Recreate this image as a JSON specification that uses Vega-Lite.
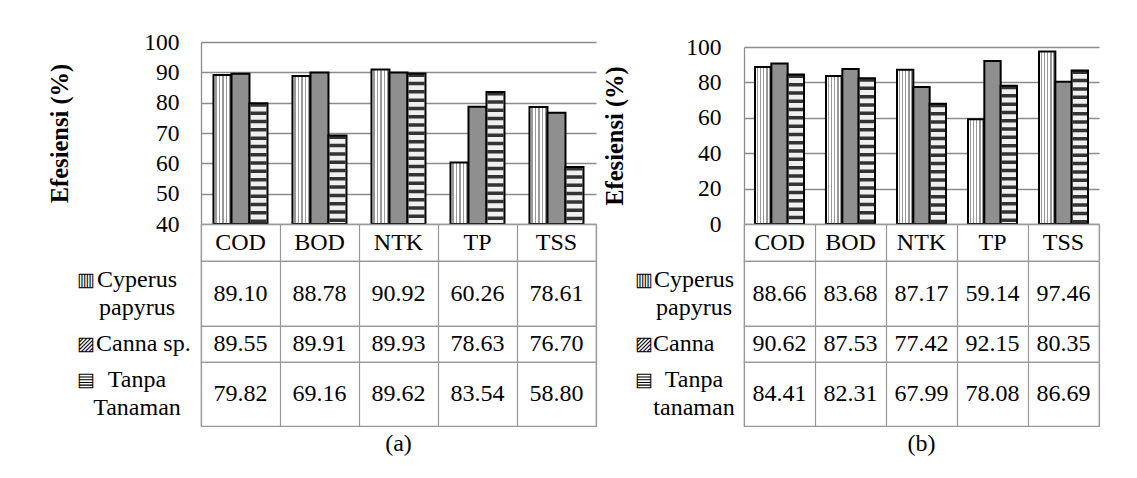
{
"$schema": "https://vega.github.io/schema/vega-lite/v6.json",
"background": "white",
"padding": {"left": 47, "top": 30, "right": 5, "bottom": 5},
"autosize": {"type": "pad"},
"datasets": {
 "a": [
  {"param": "COD", "series": "Cyperus papyrus", "value": 89.10},
  {"param": "BOD", "series": "Cyperus papyrus", "value": 88.78},
  {"param": "NTK", "series": "Cyperus papyrus", "value": 90.92},
  {"param": "TP", "series": "Cyperus papyrus", "value": 60.26},
  {"param": "TSS", "series": "Cyperus papyrus", "value": 78.61},
  {"param": "COD", "series": "Canna sp.", "value": 89.55},
  {"param": "BOD", "series": "Canna sp.", "value": 89.91},
  {"param": "NTK", "series": "Canna sp.", "value": 89.93},
  {"param": "TP", "series": "Canna sp.", "value": 78.63},
  {"param": "TSS", "series": "Canna sp.", "value": 76.70},
  {"param": "COD", "series": "Tanpa Tanaman", "value": 79.82},
  {"param": "BOD", "series": "Tanpa Tanaman", "value": 69.16},
  {"param": "NTK", "series": "Tanpa Tanaman", "value": 89.62},
  {"param": "TP", "series": "Tanpa Tanaman", "value": 83.54},
  {"param": "TSS", "series": "Tanpa Tanaman", "value": 58.80}
 ],
 "b": [
  {"param": "COD", "series": "Cyperus papyrus", "value": 88.66},
  {"param": "BOD", "series": "Cyperus papyrus", "value": 83.68},
  {"param": "NTK", "series": "Cyperus papyrus", "value": 87.17},
  {"param": "TP", "series": "Cyperus papyrus", "value": 59.14},
  {"param": "TSS", "series": "Cyperus papyrus", "value": 97.46},
  {"param": "COD", "series": "Canna", "value": 90.62},
  {"param": "BOD", "series": "Canna", "value": 87.53},
  {"param": "NTK", "series": "Canna", "value": 77.42},
  {"param": "TP", "series": "Canna", "value": 92.15},
  {"param": "TSS", "series": "Canna", "value": 80.35},
  {"param": "COD", "series": "Tanpa tanaman", "value": 84.41},
  {"param": "BOD", "series": "Tanpa tanaman", "value": 82.31},
  {"param": "NTK", "series": "Tanpa tanaman", "value": 67.99},
  {"param": "TP", "series": "Tanpa tanaman", "value": 78.08},
  {"param": "TSS", "series": "Tanpa tanaman", "value": 86.69}
 ]
},
"columns": 5,
"spacing": 0,
"bounds": "flush",
"align": "each",
"concat": [
 {"width": 132, "height": 182, "view": {"stroke": null}, "data": {"values": [{}]}, "mark": {"type": "text", "text": ""}},
 {"width": 395, "height": 182, "view": {"stroke": null}, "data": {"name": "a"},
  "resolve": {"scale": {"x": "independent"}},
  "encoding": {
   "y": {"field": "value", "type": "quantitative", "scale": {"domain": [40, 100], "nice": false, "zero": false},
    "axis": {"values": [40, 50, 60, 70, 80, 90, 100], "title": "Efesiensi (%)", "titleFontSize": 24.5, "titleFontWeight": "bold", "titleColor": "#000000", "titlePadding": 71, "labelFontSize": 23.5, "labelColor": "#000000", "labelPadding": 22, "ticks": false, "domainColor": "#8c8c8c", "domainWidth": 1.3, "grid": true, "gridColor": "#8c8c8c", "gridWidth": 1.3, "labelOverlap": false, "labelFlush": false}},
   "y2": {"datum": 40}
  },
  "layer": [
   {"transform": [{"filter": "datum.series === 'Cyperus papyrus'"}],
    "mark": {"type": "bar", "stroke": "#000000", "strokeWidth": 2, "fill": {"gradient": "linear", "x1": 0, "y1": 0, "x2": 1, "y2": 0, "stops": [
     {"offset": 0, "color": "#ffffff"}, {"offset": 0.1, "color": "#ffffff"}, {"offset": 0.1, "color": "#999999"}, {"offset": 0.17, "color": "#999999"}, {"offset": 0.17, "color": "#ffffff"},
     {"offset": 0.3, "color": "#ffffff"}, {"offset": 0.3, "color": "#999999"}, {"offset": 0.37, "color": "#999999"}, {"offset": 0.37, "color": "#ffffff"},
     {"offset": 0.5, "color": "#ffffff"}, {"offset": 0.5, "color": "#999999"}, {"offset": 0.57, "color": "#999999"}, {"offset": 0.57, "color": "#ffffff"},
     {"offset": 0.7, "color": "#ffffff"}, {"offset": 0.7, "color": "#999999"}, {"offset": 0.77, "color": "#999999"}, {"offset": 0.77, "color": "#ffffff"},
     {"offset": 0.88, "color": "#ffffff"}, {"offset": 0.88, "color": "#999999"}, {"offset": 0.95, "color": "#999999"}, {"offset": 0.95, "color": "#ffffff"}, {"offset": 1, "color": "#ffffff"}]}},
    "encoding": {"x": {"field": "param", "type": "nominal", "sort": ["COD", "BOD", "NTK", "TP", "TSS"], "scale": {"type": "band", "paddingInner": 0.7722, "paddingOuter": 0.3861, "align": 0.2046}, "axis": null}}},
   {"transform": [{"filter": "datum.series === 'Canna sp.'"}],
    "mark": {"type": "bar", "fill": "#8f8f8f", "stroke": "#000000", "strokeWidth": 2},
    "encoding": {"x": {"field": "param", "type": "nominal", "sort": ["COD", "BOD", "NTK", "TP", "TSS"], "scale": {"type": "band", "paddingInner": 0.7722, "paddingOuter": 0.3861, "align": 0.4997}, "axis": null}}},
   {"transform": [{"filter": "datum.series === 'Tanpa Tanaman'"}],
    "mark": {"type": "bar", "fill": "#f0f0f0"},
    "encoding": {"x": {"field": "param", "type": "nominal", "sort": ["COD", "BOD", "NTK", "TP", "TSS"], "scale": {"type": "band", "paddingInner": 0.7722, "paddingOuter": 0.3861, "align": 0.7948}, "axis": null}}},
   {"transform": [{"filter": "datum.series === 'Tanpa Tanaman'"}],
    "mark": {"type": "rule", "stroke": "#333333", "strokeWidth": 16, "strokeDash": [3.5, 4.8]},
    "encoding": {"x": {"field": "param", "type": "nominal", "sort": ["COD", "BOD", "NTK", "TP", "TSS"], "scale": {"type": "band", "paddingInner": 0.7722, "paddingOuter": 0.3861, "align": 0.7948}, "axis": null}}},
   {"transform": [{"filter": "datum.series === 'Tanpa Tanaman'"}],
    "mark": {"type": "bar", "filled": false, "stroke": "#000000", "strokeWidth": 2},
    "encoding": {"x": {"field": "param", "type": "nominal", "sort": ["COD", "BOD", "NTK", "TP", "TSS"], "scale": {"type": "band", "paddingInner": 0.7722, "paddingOuter": 0.3861, "align": 0.7948}, "axis": null}}}
  ]
 },
 {"width": 30, "height": 182, "view": {"stroke": null}, "data": {"values": [{}]}, "mark": {"type": "text", "text": ""}},
 {"width": 118, "height": 182, "view": {"stroke": null}, "data": {"values": [{}]}, "mark": {"type": "text", "text": ""}},
 {"width": 355, "height": 182, "view": {"stroke": null}, "data": {"name": "b"},
  "resolve": {"scale": {"x": "independent"}},
  "encoding": {
   "y": {"field": "value", "type": "quantitative", "scale": {"domain": [0, 100], "nice": false, "zero": true, "range": [182, 5]},
    "axis": {"values": [0, 20, 40, 60, 80, 100], "title": "Efesiensi (%)", "titleFontSize": 24.5, "titleFontWeight": "bold", "titleColor": "#000000", "titlePadding": 58, "labelFontSize": 23.5, "labelColor": "#000000", "labelPadding": 23, "ticks": false, "domainColor": "#8c8c8c", "domainWidth": 1.3, "grid": true, "gridColor": "#8c8c8c", "gridWidth": 1.3, "labelOverlap": false, "labelFlush": false}},
   "y2": {"datum": 0}
  },
  "layer": [
   {"transform": [{"filter": "datum.series === 'Cyperus papyrus'"}],
    "mark": {"type": "bar", "stroke": "#000000", "strokeWidth": 2, "fill": {"gradient": "linear", "x1": 0, "y1": 0, "x2": 1, "y2": 0, "stops": [
     {"offset": 0, "color": "#ffffff"}, {"offset": 0.1, "color": "#ffffff"}, {"offset": 0.1, "color": "#999999"}, {"offset": 0.17, "color": "#999999"}, {"offset": 0.17, "color": "#ffffff"},
     {"offset": 0.3, "color": "#ffffff"}, {"offset": 0.3, "color": "#999999"}, {"offset": 0.37, "color": "#999999"}, {"offset": 0.37, "color": "#ffffff"},
     {"offset": 0.5, "color": "#ffffff"}, {"offset": 0.5, "color": "#999999"}, {"offset": 0.57, "color": "#999999"}, {"offset": 0.57, "color": "#ffffff"},
     {"offset": 0.7, "color": "#ffffff"}, {"offset": 0.7, "color": "#999999"}, {"offset": 0.77, "color": "#999999"}, {"offset": 0.77, "color": "#ffffff"},
     {"offset": 0.88, "color": "#ffffff"}, {"offset": 0.88, "color": "#999999"}, {"offset": 0.95, "color": "#999999"}, {"offset": 0.95, "color": "#ffffff"}, {"offset": 1, "color": "#ffffff"}]}},
    "encoding": {"x": {"field": "param", "type": "nominal", "sort": ["COD", "BOD", "NTK", "TP", "TSS"], "scale": {"type": "band", "paddingInner": 0.77, "paddingOuter": 0.385, "align": 0.2012}, "axis": null}}},
   {"transform": [{"filter": "datum.series === 'Canna'"}],
    "mark": {"type": "bar", "fill": "#8f8f8f", "stroke": "#000000", "strokeWidth": 2},
    "encoding": {"x": {"field": "param", "type": "nominal", "sort": ["COD", "BOD", "NTK", "TP", "TSS"], "scale": {"type": "band", "paddingInner": 0.77, "paddingOuter": 0.385, "align": 0.5}, "axis": null}}},
   {"transform": [{"filter": "datum.series === 'Tanpa tanaman'"}],
    "mark": {"type": "bar", "fill": "#f0f0f0"},
    "encoding": {"x": {"field": "param", "type": "nominal", "sort": ["COD", "BOD", "NTK", "TP", "TSS"], "scale": {"type": "band", "paddingInner": 0.77, "paddingOuter": 0.385, "align": 0.7988}, "axis": null}}},
   {"transform": [{"filter": "datum.series === 'Tanpa tanaman'"}],
    "mark": {"type": "rule", "stroke": "#333333", "strokeWidth": 14.3, "strokeDash": [3.5, 4.8]},
    "encoding": {"x": {"field": "param", "type": "nominal", "sort": ["COD", "BOD", "NTK", "TP", "TSS"], "scale": {"type": "band", "paddingInner": 0.77, "paddingOuter": 0.385, "align": 0.7988}, "axis": null}}},
   {"transform": [{"filter": "datum.series === 'Tanpa tanaman'"}],
    "mark": {"type": "bar", "filled": false, "stroke": "#000000", "strokeWidth": 2},
    "encoding": {"x": {"field": "param", "type": "nominal", "sort": ["COD", "BOD", "NTK", "TP", "TSS"], "scale": {"type": "band", "paddingInner": 0.77, "paddingOuter": 0.385, "align": 0.7988}, "axis": null}}}
  ]
 },

 {"width": 132, "height": 37, "view": {"stroke": null}, "data": {"values": [{}]}, "mark": {"type": "text", "text": ""}},
 {"width": 395, "height": 37, "data": {"name": "a"}, "transform": [{"filter": "datum.series === 'Cyperus papyrus'"}],
  "mark": {"type": "text"},
  "encoding": {"x": {"field": "param", "type": "nominal", "sort": ["COD", "BOD", "NTK", "TP", "TSS"], "scale": {"type": "band", "paddingInner": 0, "paddingOuter": 0}, "axis": {"grid": true, "tickBand": "extent", "labels": false, "ticks": false, "domain": false, "title": null, "gridColor": "#999999", "gridWidth": 1.2}}, "text": {"field": "param", "type": "nominal"}}},
 {"width": 30, "height": 37, "view": {"stroke": null}, "data": {"values": [{}]}, "mark": {"type": "text", "text": ""}},
 {"width": 118, "height": 37, "view": {"stroke": null}, "data": {"values": [{}]}, "mark": {"type": "text", "text": ""}},
 {"width": 355, "height": 37, "data": {"name": "b"}, "transform": [{"filter": "datum.series === 'Cyperus papyrus'"}],
  "mark": {"type": "text"},
  "encoding": {"x": {"field": "param", "type": "nominal", "sort": ["COD", "BOD", "NTK", "TP", "TSS"], "scale": {"type": "band", "paddingInner": 0, "paddingOuter": 0}, "axis": {"grid": true, "tickBand": "extent", "labels": false, "ticks": false, "domain": false, "title": null, "gridColor": "#999999", "gridWidth": 1.2}}, "text": {"field": "param", "type": "nominal"}}},

 {"width": 132, "height": 65, "data": {"name": "a"}, "transform": [{"filter": "datum.series === 'Cyperus papyrus' && datum.param === 'COD'"}],
  "layer": [
   {"mark": {"type": "text", "text": "▥", "fontSize": 19, "align": "left", "dx": -58, "dy": -14}},
   {"mark": {"type": "text", "text": ["Cyperus", "papyrus"], "align": "center", "dx": 2, "dy": -14, "lineHeight": 28}}
  ]},
 {"width": 395, "height": 65, "data": {"name": "a"}, "transform": [{"filter": "datum.series === 'Cyperus papyrus'"}],
  "mark": {"type": "text"},
  "encoding": {"x": {"field": "param", "type": "nominal", "sort": ["COD", "BOD", "NTK", "TP", "TSS"], "scale": {"type": "band", "paddingInner": 0, "paddingOuter": 0}, "axis": {"grid": true, "tickBand": "extent", "labels": false, "ticks": false, "domain": false, "title": null, "gridColor": "#999999", "gridWidth": 1.2}}, "text": {"field": "value", "type": "quantitative", "format": ".2f"}}},
 {"width": 30, "height": 65, "view": {"stroke": null}, "data": {"values": [{}]}, "mark": {"type": "text", "text": ""}},
 {"width": 118, "height": 65, "data": {"name": "b"}, "transform": [{"filter": "datum.series === 'Cyperus papyrus' && datum.param === 'COD'"}],
  "layer": [
   {"mark": {"type": "text", "text": "▥", "fontSize": 19, "align": "left", "dx": -50, "dy": -14}},
   {"mark": {"type": "text", "text": ["Cyperus", "papyrus"], "align": "center", "dx": 9, "dy": -14, "lineHeight": 28}}
  ]},
 {"width": 355, "height": 65, "data": {"name": "b"}, "transform": [{"filter": "datum.series === 'Cyperus papyrus'"}],
  "mark": {"type": "text"},
  "encoding": {"x": {"field": "param", "type": "nominal", "sort": ["COD", "BOD", "NTK", "TP", "TSS"], "scale": {"type": "band", "paddingInner": 0, "paddingOuter": 0}, "axis": {"grid": true, "tickBand": "extent", "labels": false, "ticks": false, "domain": false, "title": null, "gridColor": "#999999", "gridWidth": 1.2}}, "text": {"field": "value", "type": "quantitative", "format": ".2f"}}},

 {"width": 132, "height": 36, "data": {"name": "a"}, "transform": [{"filter": "datum.series === 'Canna sp.' && datum.param === 'COD'"}],
  "layer": [
   {"mark": {"type": "text", "text": "▨", "fontSize": 19, "align": "left", "dx": -58}},
   {"mark": {"type": "text", "text": "Canna sp.", "align": "left", "dx": -39}}
  ]},
 {"width": 395, "height": 36, "data": {"name": "a"}, "transform": [{"filter": "datum.series === 'Canna sp.'"}],
  "mark": {"type": "text"},
  "encoding": {"x": {"field": "param", "type": "nominal", "sort": ["COD", "BOD", "NTK", "TP", "TSS"], "scale": {"type": "band", "paddingInner": 0, "paddingOuter": 0}, "axis": {"grid": true, "tickBand": "extent", "labels": false, "ticks": false, "domain": false, "title": null, "gridColor": "#999999", "gridWidth": 1.2}}, "text": {"field": "value", "type": "quantitative", "format": ".2f"}}},
 {"width": 30, "height": 36, "view": {"stroke": null}, "data": {"values": [{}]}, "mark": {"type": "text", "text": ""}},
 {"width": 118, "height": 36, "data": {"name": "b"}, "transform": [{"filter": "datum.series === 'Canna' && datum.param === 'COD'"}],
  "layer": [
   {"mark": {"type": "text", "text": "▨", "fontSize": 19, "align": "left", "dx": -50}},
   {"mark": {"type": "text", "text": "Canna", "align": "left", "dx": -32}}
  ]},
 {"width": 355, "height": 36, "data": {"name": "b"}, "transform": [{"filter": "datum.series === 'Canna'"}],
  "mark": {"type": "text"},
  "encoding": {"x": {"field": "param", "type": "nominal", "sort": ["COD", "BOD", "NTK", "TP", "TSS"], "scale": {"type": "band", "paddingInner": 0, "paddingOuter": 0}, "axis": {"grid": true, "tickBand": "extent", "labels": false, "ticks": false, "domain": false, "title": null, "gridColor": "#999999", "gridWidth": 1.2}}, "text": {"field": "value", "type": "quantitative", "format": ".2f"}}},

 {"width": 132, "height": 64, "data": {"name": "a"}, "transform": [{"filter": "datum.series === 'Tanpa Tanaman' && datum.param === 'COD'"}],
  "layer": [
   {"mark": {"type": "text", "text": "▤", "fontSize": 19, "align": "left", "dx": -58, "dy": -14}},
   {"mark": {"type": "text", "text": ["Tanpa", "Tanaman"], "align": "center", "dx": 2, "dy": -14, "lineHeight": 28}}
  ]},
 {"width": 395, "height": 64, "data": {"name": "a"}, "transform": [{"filter": "datum.series === 'Tanpa Tanaman'"}],
  "mark": {"type": "text"},
  "encoding": {"x": {"field": "param", "type": "nominal", "sort": ["COD", "BOD", "NTK", "TP", "TSS"], "scale": {"type": "band", "paddingInner": 0, "paddingOuter": 0}, "axis": {"grid": true, "tickBand": "extent", "labels": false, "ticks": false, "domain": false, "title": null, "gridColor": "#999999", "gridWidth": 1.2}}, "text": {"field": "value", "type": "quantitative", "format": ".2f"}}},
 {"width": 30, "height": 64, "view": {"stroke": null}, "data": {"values": [{}]}, "mark": {"type": "text", "text": ""}},
 {"width": 118, "height": 64, "data": {"name": "b"}, "transform": [{"filter": "datum.series === 'Tanpa tanaman' && datum.param === 'COD'"}],
  "layer": [
   {"mark": {"type": "text", "text": "▤", "fontSize": 19, "align": "left", "dx": -50, "dy": -14}},
   {"mark": {"type": "text", "text": ["Tanpa", "tanaman"], "align": "center", "dx": 9, "dy": -14, "lineHeight": 28}}
  ]},
 {"width": 355, "height": 64, "data": {"name": "b"}, "transform": [{"filter": "datum.series === 'Tanpa tanaman'"}],
  "mark": {"type": "text"},
  "encoding": {"x": {"field": "param", "type": "nominal", "sort": ["COD", "BOD", "NTK", "TP", "TSS"], "scale": {"type": "band", "paddingInner": 0, "paddingOuter": 0}, "axis": {"grid": true, "tickBand": "extent", "labels": false, "ticks": false, "domain": false, "title": null, "gridColor": "#999999", "gridWidth": 1.2}}, "text": {"field": "value", "type": "quantitative", "format": ".2f"}}},

 {"width": 132, "height": 36, "view": {"stroke": null}, "data": {"values": [{}]}, "mark": {"type": "text", "text": ""}},
 {"width": 395, "height": 36, "view": {"stroke": null}, "data": {"values": [{}]}, "mark": {"type": "text", "text": "(a)"}},
 {"width": 30, "height": 36, "view": {"stroke": null}, "data": {"values": [{}]}, "mark": {"type": "text", "text": ""}},
 {"width": 118, "height": 36, "view": {"stroke": null}, "data": {"values": [{}]}, "mark": {"type": "text", "text": ""}},
 {"width": 355, "height": 36, "view": {"stroke": null}, "data": {"values": [{}]}, "mark": {"type": "text", "text": "(b)"}}
],
"config": {
 "font": "Liberation Serif",
 "view": {"stroke": "#999999", "strokeWidth": 1.2},
 "text": {"font": "Liberation Serif", "fontSize": 24, "color": "#000000"},
 "axis": {"labelFont": "Liberation Serif", "titleFont": "Liberation Serif"}
}
}
